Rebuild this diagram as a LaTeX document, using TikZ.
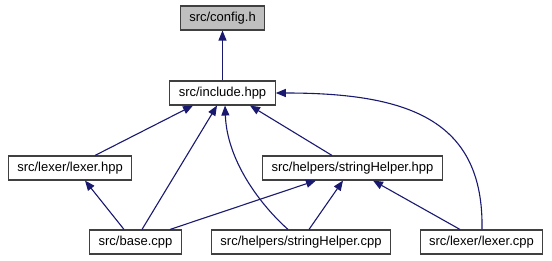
\documentclass[tikz,border=0pt]{standalone}
\usepackage{fontspec}
\setmainfont{Liberation Sans}
\usetikzlibrary{arrows.meta}

\definecolor{edgeblue}{HTML}{191970}
\definecolor{rootgray}{HTML}{BFBFBF}

\tikzset{
    file/.style={draw=black!75, line width=1.1pt, fill=white, inner xsep=9pt,
        minimum height=24pt, font=\fontsize{13}{15}\selectfont},
    edge/.style={draw=edgeblue, line width=1.1pt,
        -{Triangle[length=10pt,width=8pt]}}
}

\begin{document}
\begin{tikzpicture}[x=1pt, y=-1pt]
    \useasboundingbox (0,0) rectangle (552,261);

    % files
    \node[file, fill=rootgray] (config) at (222.5,18) {src/config.h};
    \node[file] (include) at (222.5,93) {src/include.hpp};
    \node[file] (lexerhpp) at (70,168) {src/lexer/lexer.hpp};
    \node[file] (shhpp) at (352.5,168) {src/helpers/stringHelper.hpp};
    \node[file] (base) at (135.5,242) {src/base.cpp};
    \node[file] (shcpp) at (301,242) {src/helpers/stringHelper.cpp};
    \node[file] (lexercpp) at (481.5,242) {src/lexer/lexer.cpp};

    % includes
    \draw[edge] (include.north) -- (config.south);
    \draw[edge] ([xshift=25pt]lexerhpp.north) -- ([xshift=-29.5pt]include.south);
    \draw[edge] ([xshift=6.5pt]base.north) -- ([xshift=-5.5pt]include.south);
    \draw[edge] ([xshift=-13pt]shcpp.north) .. controls +(-28,-25) and +(2,55) .. ([xshift=2.5pt]include.south);
    \draw[edge] ([xshift=-20.5pt]shhpp.north) -- ([xshift=27.5pt]include.south);
    \draw[edge] ([xshift=0.5pt]lexercpp.north) .. controls +(2,-110) and +(132,0) .. (include.east);

    \draw[edge] ([xshift=-11.5pt]base.north) -- ([xshift=15pt]lexerhpp.south);
    \draw[edge] ([xshift=34.5pt]base.north) -- ([xshift=-36.5pt]shhpp.south);
    \draw[edge] ([xshift=8pt]shcpp.north) -- ([xshift=-9.5pt]shhpp.south);
    \draw[edge] ([xshift=-21.5pt]lexercpp.north) -- ([xshift=20.5pt]shhpp.south);
\end{tikzpicture}
\end{document}
